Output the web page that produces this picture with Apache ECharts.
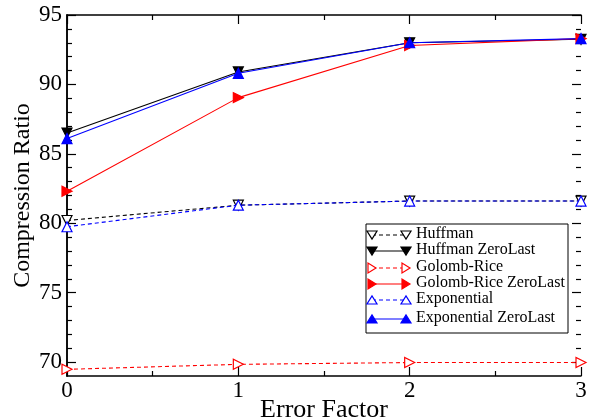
<!DOCTYPE html>
<html><head><meta charset="utf-8">
<script src="https://cdn.jsdelivr.net/npm/echarts@6/dist/echarts.min.js"></script>
<style>html,body{margin:0;padding:0;background:#fff}#c{width:592px;height:419px}</style>
</head><body><div id="c"></div>
<script>
const xValues = [0, 1, 2, 3];
const huffman = [80.2, 81.3, 81.6, 81.6];
const huffmanZL = [86.5, 90.9, 93.0, 93.25];
const golomb = [69.48, 69.84, 69.97, 69.97];
const golombZL = [82.3, 89.05, 92.8, 93.3];
const expo = [79.75, 81.3, 81.6, 81.6];
const expoZL = [86.1, 90.8, 93.0, 93.3];
const seriesNames = ['Huffman','Huffman ZeroLast','Golomb-Rice','Golomb-Rice ZeroLast','Exponential','Exponential ZeroLast'];
const yTicks = [70, 75, 80, 85, 90, 95];

const FONT = '"Liberation Serif", "DejaVu Serif", serif';
const L = 67, R = 11, T = 15, B = 43;
const plotH = 419 - T - B;
const h2 = plotH * 25 / 26;

function pairs(arr){ return xValues.map((x,i)=>[x, arr[i]]); }

const defs = [
  {name: seriesNames[0], data: huffman, color:'#000', dashed:true, filled:false, rot:180},
  {name: seriesNames[1], data: huffmanZL, color:'#000', dashed:false, filled:true, rot:180},
  {name: seriesNames[2], data: golomb, color:'#ff0000', dashed:true, filled:false, rot:-90},
  {name: seriesNames[3], data: golombZL, color:'#ff0000', dashed:false, filled:true, rot:-90},
  {name: seriesNames[4], data: expo, color:'#0000ff', dashed:true, filled:false, rot:0},
  {name: seriesNames[5], data: expoZL, color:'#0000ff', dashed:false, filled:true, rot:0}
];

const series = defs.map(d => ({
  type:'line', name:d.name, xAxisIndex:0, yAxisIndex:0,
  data: pairs(d.data), symbol:'triangle', symbolSize:10, symbolRotate:d.rot,
  clip:false, animation:false,
  lineStyle:{color:d.color, width:1.1, type: d.dashed ? [4,3] : 'solid'},
  itemStyle:{color: d.filled ? d.color : '#fff', borderColor:d.color, borderWidth:1.2}
}));

// custom legend
const lgX = 366, lgY = 224, lgW = 202, lgH = 109;
const rowY = [235, 251, 268, 284, 300, 319];
const graphic = [{type:'rect', shape:{x:lgX, y:lgY, width:lgW, height:lgH}, style:{fill:'#fff', stroke:'#000', lineWidth:1}, z:100}];
defs.forEach((d,i)=>{
  const y = rowY[i];
  graphic.push({type:'line', shape:{x1:372, y1:y, x2:406, y2:y}, style:{stroke:d.color, lineWidth:1.2, lineDash: d.dashed?[4,3]:null}, z:101});
  [372, 406].forEach(cx=>{
    let pts;
    const s = 5;
    if (d.rot===180) pts=[[cx-s,y-s+1],[cx+s,y-s+1],[cx,y+s-1]];
    else if (d.rot===0) pts=[[cx-s,y+s-1],[cx+s,y+s-1],[cx,y-s+1]];
    else pts=[[cx-s+1,y-s],[cx-s+1,y+s],[cx+s-1,y]];
    graphic.push({type:'polygon', shape:{points:pts}, style:{fill:d.filled?d.color:'#fff', stroke:d.color, lineWidth:1.2}, z:102});
  });
  graphic.push({type:'text', left:416, top:y-9, style:{text:d.name, font:'16px '+FONT, fill:'#000'}, z:102});
});

const chart = echarts.init(document.getElementById('c'), null, {renderer:'canvas'});
chart.setOption({
  backgroundColor:'#fff',
  animation:false,
  grid:[
    {left:L, right:R, top:T, bottom:B, containLabel:false, outerBoundsMode:'none'},
    {left:L, right:R, top:T, height:h2, containLabel:false, outerBoundsMode:'none'}
  ],
  xAxis:[
    {type:'value', gridIndex:0, min:0, max:3, interval:1, position:'bottom',
     name:'Error Factor', nameLocation:'middle', nameGap:21, nameMoveOverlap:false,
     nameTextStyle:{fontFamily:FONT, fontSize:26, color:'#000'},
     axisLine:{lineStyle:{color:'#000', width:1.5}},
     axisTick:{inside:true, length:9, lineStyle:{color:'#000', width:1.2}},
     minorTick:{show:true, splitNumber:2, length:5, lineStyle:{color:'#000', width:1.2}},
     axisLabel:{fontFamily:FONT, fontSize:23, color:'#000', margin:3},
     splitLine:{show:false}},
    {type:'value', gridIndex:0, min:0, max:3, interval:1, position:'top',
     axisLine:{lineStyle:{color:'#000', width:1.5}},
     axisTick:{inside:true, length:9, lineStyle:{color:'#000', width:1.2}},
     minorTick:{show:true, splitNumber:2, length:5, lineStyle:{color:'#000', width:1.2}},
     axisLabel:{show:false}, splitLine:{show:false}},
    {type:'value', gridIndex:1, min:0, max:3, show:false}
  ],
  yAxis:[
    {type:'value', gridIndex:0, min:69, max:95, position:'left',
     name:'Compression Ratio', nameLocation:'middle', nameGap:32, nameMoveOverlap:false,
     nameTextStyle:{fontFamily:FONT, fontSize:24, color:'#000'},
     axisLine:{lineStyle:{color:'#000', width:1.5}},
     axisTick:{show:false}, axisLabel:{show:false}, splitLine:{show:false}},
    {type:'value', gridIndex:0, min:69, max:95, position:'right',
     axisLine:{lineStyle:{color:'#000', width:1.5}},
     axisTick:{show:false}, axisLabel:{show:false}, splitLine:{show:false}},
    {type:'value', gridIndex:1, min:yTicks[0], max:yTicks[yTicks.length-1], interval:5, position:'left',
     axisLine:{show:false},
     axisTick:{inside:true, length:9, lineStyle:{color:'#000', width:1.2}},
     minorTick:{show:true, splitNumber:5, length:5, lineStyle:{color:'#000', width:1.2}},
     axisLabel:{fontFamily:FONT, fontSize:23, color:'#000', margin:5},
     splitLine:{show:false}},
    {type:'value', gridIndex:1, min:yTicks[0], max:yTicks[yTicks.length-1], interval:5, position:'right',
     axisLine:{show:false},
     axisTick:{inside:true, length:9, lineStyle:{color:'#000', width:1.2}},
     minorTick:{show:true, splitNumber:5, length:5, lineStyle:{color:'#000', width:1.2}},
     axisLabel:{show:false}, splitLine:{show:false}}
  ],
  series: series,
  graphic: graphic
});
</script></body></html>
